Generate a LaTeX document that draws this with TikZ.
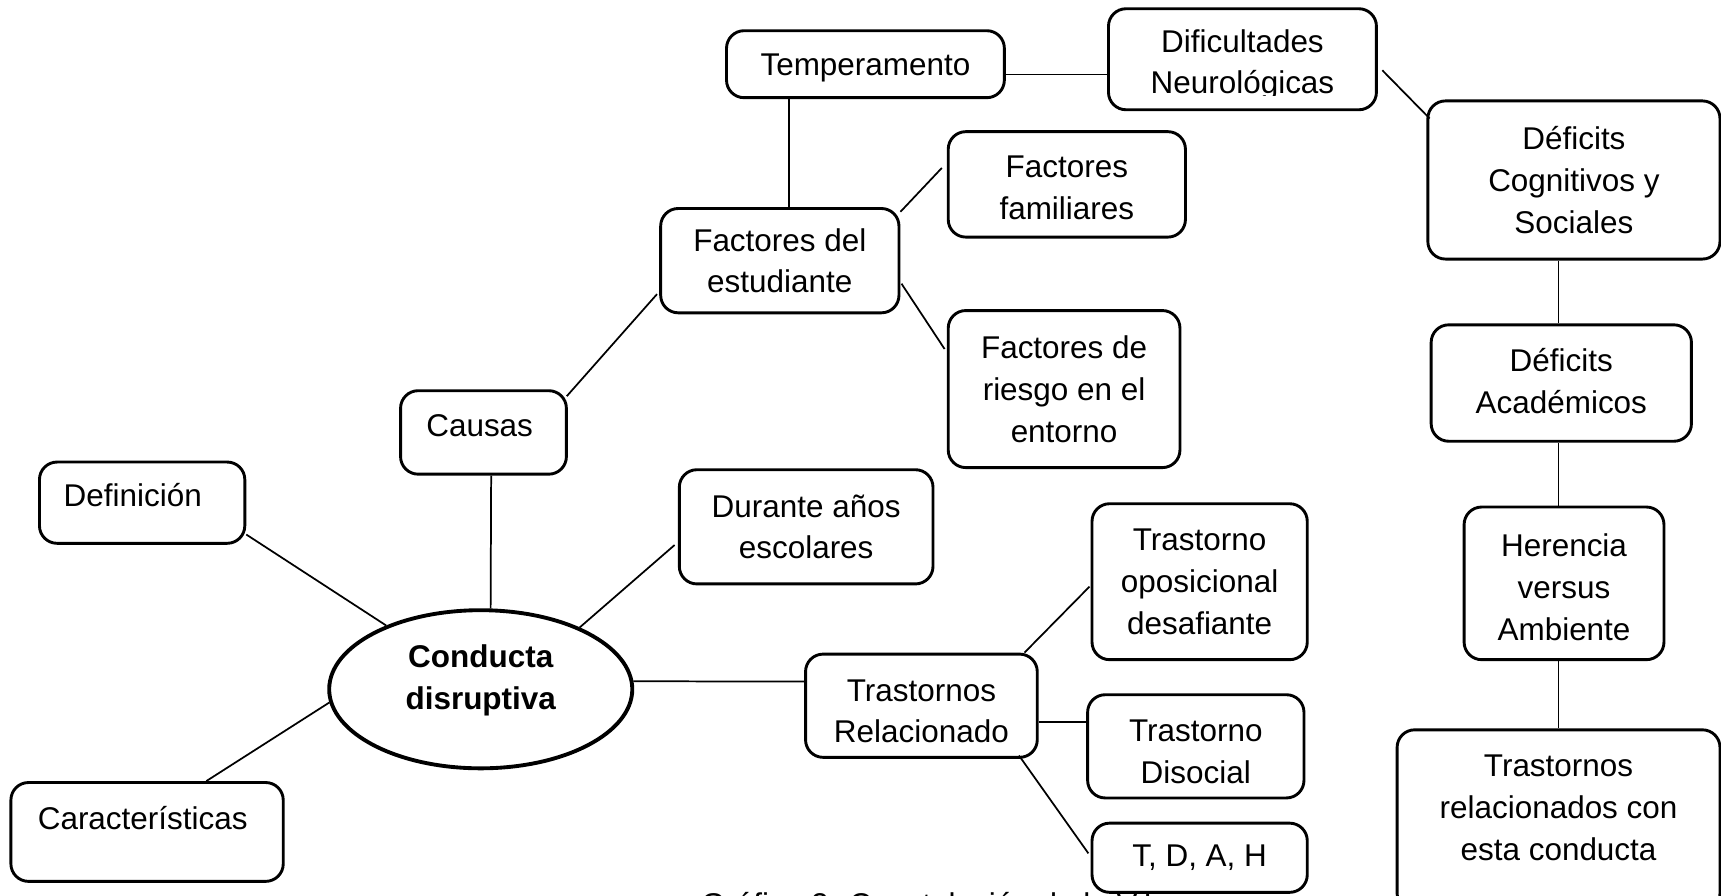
\documentclass[tikz,border=0pt]{standalone}
\usepackage{fontspec}
\setmainfont{Liberation Sans}
\usetikzlibrary{shapes.geometric,calc}
\tikzset{
  box/.style={draw, rounded corners=0.16cm, line width=0.75pt, inner sep=0pt, align=center,
              font=\fontsize{8.15pt}{10.8pt}\selectfont},
  txt/.style={inner sep=0pt, align=center, font=\fontsize{8.15pt}{10.8pt}\selectfont},
  oval/.style={draw, ellipse, line width=1pt, inner sep=0pt},
  link/.style={line width=0.45pt}
}
\begin{document}
\begin{tikzpicture}[x=0.01cm, y=-0.01cm]
\useasboundingbox (0,0) rectangle (1568,816);
% boxes
\node[box, minimum width=2.53cm, minimum height=0.61cm] (temp) at (788.5,58.5) {};
\node[txt] (temptxt) at (788.5,61.5) {Temperamento};
\node[box, minimum width=2.44cm, minimum height=0.92cm] (dif) at (1132,54) {};
\begin{scope}
  \clip (1012,10) rectangle (1252,87);
  \node[txt] (diftxt) at (1132,59) {Dificultades\\Neurológicas};
\end{scope}
\node[box, minimum width=2.66cm, minimum height=1.44cm] (dcs) at (1434,164) {Déficits\\Cognitivos y\\Sociales};
\node[box, minimum width=2.16cm, minimum height=0.96cm] (ff) at (972,168) {};
\node[txt] (fftxt) at (972,171) {Factores\\familiares};
\node[box, minimum width=2.17cm, minimum height=0.95cm] (fde) at (710.5,237.5) {Factores del\\estudiante};
\node[box, minimum width=2.11cm, minimum height=1.43cm] (fre) at (969.5,354.5) {Factores de\\riesgo en el\\entorno};
\node[box, minimum width=2.37cm, minimum height=1.06cm] (da) at (1422.5,349) {};
\node[txt] (datxt) at (1422.5,347) {Déficits\\Académicos};
\node[box, minimum width=1.51cm, minimum height=0.76cm] (causas) at (440.5,394) {};
\node[txt] (causastxt) at (437,388) {Causas};
\node[box, minimum width=1.87cm, minimum height=0.74cm] (def) at (129.5,458) {};
\node[txt] (deftxt) at (121,451) {Definición};
\node[box, minimum width=2.31cm, minimum height=1.04cm] (dur) at (734.5,480) {Durante años\\escolares};
\node[box, minimum width=1.96cm, minimum height=1.42cm] (tod) at (1093,530) {Trastorno\\oposicional\\desafiante};
\node[box, minimum width=1.82cm, minimum height=1.39cm] (her) at (1425,531.5) {};
\node[txt] (hertxt) at (1425,535) {Herencia\\versus\\Ambiente};
\node[box, minimum width=2.11cm, minimum height=0.94cm] (tr) at (839.5,643) {};
\node[txt] (trtxt) at (839.5,648) {Trastornos\\Relacionado};
\node[box, minimum width=1.97cm, minimum height=0.94cm] (dis) at (1089.5,680) {};
\node[txt] (distxt) at (1089.5,685) {Trastorno\\Disocial};
\node[box, minimum width=1.96cm, minimum height=0.63cm] (tdah) at (1093,781.5) {T, D, A, H};
\node[box, minimum width=2.48cm, minimum height=0.90cm] (car) at (134,758) {};
\node[txt] (cartxt) at (130,745) {Características};
\node[box, minimum width=2.94cm, minimum height=1.65cm] (trc) at (1420,747.5) {};
\node[txt] (trctxt) at (1420,736) {Trastornos\\relacionados con\\esta conducta};
\node[oval, minimum width=2.76cm, minimum height=1.44cm] (cd) at (438,628) {};
\node[txt, font=\fontsize{8.15pt}{10.8pt}\selectfont\bfseries] (cdtxt) at (438,620) {Conducta\\disruptiva};
% caption (cut by the page edge, as in the reference)
\node[txt, anchor=base west] (cap) at (638,834) {Gráfico 2. Constelación de la V.I.};
% connectors
\draw[link] ($(temp.south)+(-69.5,0)$) -- ($(fde.north)+(8.5,0)$);
\draw[link] ($(temp.east)+(0,9.5)$) -- ($(dif.west)+(0,14)$);
\draw[link] ($(dif.east)+(4,10)$) -- ($(dcs.west)+(3,-56)$);
\draw[link] ($(fde.east)+(0,-44.5)$) -- ($(ff.west)+(-4.5,-15)$);
\draw[link] ($(fde.east)+(1,21)$) -- ($(fre.west)+(-2,-36.5)$);
\draw[link] ($(causas.east)+(-1,-33)$) -- ($(fde.west)+(-2,30.5)$);
\draw[link] ($(causas.south)+(7,0)$) -- ($(cd.north)+(9,0)$);
\draw[link] ($(def.east)+(0,29)$) -- (cd.146);
\draw[link] ($(car.north)+(54,0)$) -- (cd.185);
\draw[link] (cd.32) -- ($(dur.west)+(-3,16.6)$);
\draw[link] (cd.3) -- ($(tr.west)+(0,-22)$);
\draw[link] ($(tr.north east)+(-13,0)$) -- ($(tod.west)+(-1,4.5)$);
\draw[link] ($(tr.east)+(0,14.5)$) -- ($(dis.west)+(0,-22.5)$);
\draw[link] ($(tr.south east)+(-18,-3)$) -- ($(tdah.west)+(-2,-4)$);
\draw[link] ($(dcs.south)+(-14,0)$) -- ($(da.north)+(-2.5,0)$);
\draw[link] ($(da.south)+(-2.5,0)$) -- ($(her.north)+(-5,0)$);
\draw[link] ($(her.south)+(-5,0)$) -- (trc.north);
\end{tikzpicture}
\end{document}
